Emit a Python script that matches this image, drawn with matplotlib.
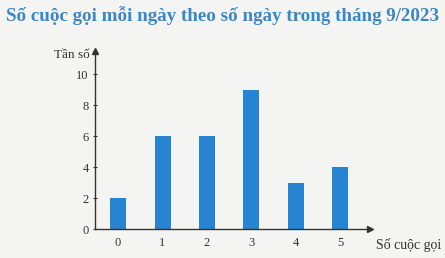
import matplotlib.pyplot as plt

# số cuộc gọi mỗi ngày và số ngày tương ứng
so_cuoc_goi = [0, 1, 2, 3, 4, 5]
tan_so = [2, 6, 6, 9, 3, 4]
y_ticks = [0, 2, 4, 6, 8, 10]

title = 'Số cuộc gọi mỗi ngày theo số ngày trong tháng 9/2023'
bar_color = '#2784d2'
paper = '#f4f4f2'
ink = '#333333'

plt.rcParams['font.family'] = ['Liberation Serif', 'DejaVu Serif']

fig = plt.figure(figsize=(4.45, 2.58), dpi=100, facecolor=paper)
ax = fig.add_axes([0.2135, 0.112, 0.618, 0.69])
ax.set_facecolor(paper)

ax.bar(so_cuoc_goi, tan_so, width=0.36, color=bar_color, zorder=2)

ax.set_xlim(-0.52, 5.67)
ax.set_ylim(0, 11.5)
ax.set_xticks(so_cuoc_goi)
ax.set_yticks(y_ticks)
ax.tick_params(axis='x', length=0, pad=6, labelsize=9, colors=ink)
ax.tick_params(axis='y', length=3, direction='inout', pad=3, labelsize=9, colors=ink)

for s in ['top', 'right']:
    ax.spines[s].set_visible(False)
for s in ['left', 'bottom']:
    ax.spines[s].set_color(ink)
    ax.spines[s].set_linewidth(1.0)

# arrows at the end of the axes
ax.plot(1, 0, '>', color=ink, markersize=5, transform=ax.transAxes, clip_on=False)
ax.plot(0, 1, '^', color=ink, markersize=5, transform=ax.transAxes, clip_on=False)

ax.text(-0.02, 0.98, 'Tần số', transform=ax.transAxes, ha='right', va='center',
        fontsize=9.5, color=ink)
ax.text(1.02, -0.05, 'Số cuộc gọi', transform=ax.transAxes, ha='left', va='top',
        fontsize=10, color=ink)

fig.text(0.5, 0.94, title, ha='center', va='center', fontsize=13.7,
         fontweight='bold', color='#3a87c6')

plt.savefig('out.png', dpi=100, facecolor=paper)
